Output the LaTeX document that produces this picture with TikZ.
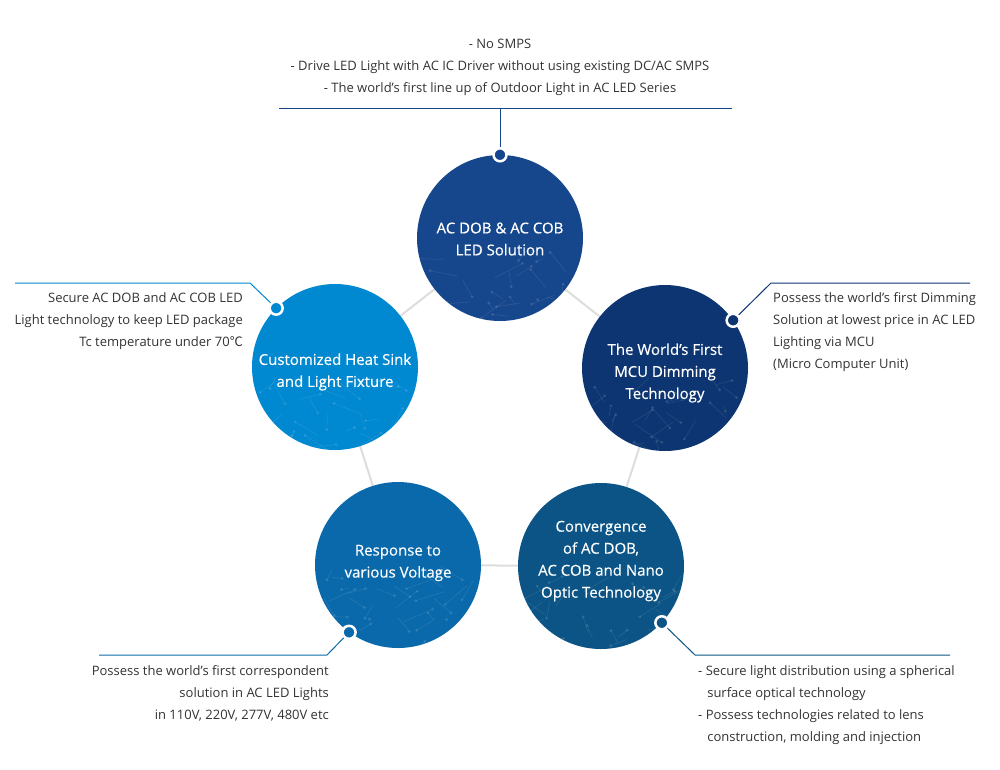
\documentclass[tikz,border=0pt]{standalone}
\usepackage{fontspec}
\setmainfont{Open Sans}
\newfontfamily\cjkfont{Noto Sans CJK KR}
\usetikzlibrary{calc}
\definecolor{cA}{HTML}{16468C}
\definecolor{cB}{HTML}{0D3571}
\definecolor{cC}{HTML}{0088D0}
\definecolor{cD}{HTML}{0A69AA}
\definecolor{cE}{HTML}{0B5485}
\definecolor{txt}{HTML}{333333}
\definecolor{link}{HTML}{DDDDDD}
\tikzset{
  bubble/.style={circle,minimum size=166pt,inner sep=0pt,fill=#1},
  bubtext/.style={text=white,align=center,inner sep=0pt,font=\fontsize{15}{22}\selectfont\addfontfeature{FakeBold=0.4}},
  dotmark/.style={circle,fill=#1,draw=white,line width=2.5pt,minimum size=13pt,inner sep=0pt},
  leader/.style={draw=#1,line width=1pt},
  desc/.style={text=txt,font=\fontsize{13}{22}\selectfont,inner sep=0pt},
  link/.style={draw=link,line width=2pt}
}
\begin{document}
\begin{tikzpicture}[x=1pt,y=-1pt]
\useasboundingbox (0,0) rectangle (1000,769);
% circle centres
\coordinate (pA) at (500,238);
\coordinate (pB) at (665,368);
\coordinate (pC) at (335,367);
\coordinate (pD) at (398,565);
\coordinate (pE) at (601,566);
\draw[link] (pA) -- (pB) -- (pE) -- (pD) -- (pC) -- cycle;
% bubbles
\node[bubble=cA] (cA) at (pA) {};
\node[bubble=cB] (cB) at (pB) {};
\node[bubble=cC] (cC) at (pC) {};
\node[bubble=cD] (cD) at (pD) {};
\node[bubble=cE] (cE) at (pE) {};
% faint network texture
\foreach \p/\s in {pA/3,pB/5,pC/7,pD/11,pE/13}{
  \begin{scope}
    \clip (\p) circle (83);
    \pgfmathsetseed{\s}
    \foreach \i in {1,...,30}{
      \pgfmathsetmacro{\ax}{rnd*170-85}
      \pgfmathsetmacro{\ay}{rnd*70+10}
      \pgfmathsetmacro{\bx}{\ax+rnd*60-30}
      \pgfmathsetmacro{\by}{\ay+rnd*40-20}
      \draw[white,opacity=0.10,line width=0.6pt] ($(\p)+(\ax,\ay)$) -- ($(\p)+(\bx,\by)$);
      \fill[white,opacity=0.12] ($(\p)+(\ax,\ay)$) circle (1.6);
    }
  \end{scope}
}
% bubble texts
\node[bubtext] (tcA) at ([yshift=-1pt]cA.center) {AC DOB \& AC COB\\LED Solution};
\node[bubtext] (tcB) at ([yshift=-5pt]cB.center) {The World’s First\\MCU Dimming\\Technology};
\node[bubtext] (tcC) at ([yshift=-5pt]cC.center) {Customized Heat Sink\\and Light Fixture};
\node[bubtext] (tcD) at ([yshift=2pt]cD.center) {Response to\\various Voltage};
\node[bubtext] (tcE) at ([yshift=5pt]cE.center) {Convergence\\of AC DOB,\\AC COB and Nano\\Optic Technology};
% dots and leaders
\node[dotmark=cA] (dA) at (cA.90) {};
\node[dotmark=cB] (dB) at (cB.35) {};
\node[dotmark=cC] (dC) at (cC.135) {};
\node[dotmark=cD] (dD) at (cD.234) {};
\node[dotmark=cE] (dE) at (cE.317) {};
\coordinate (kA) at (500,108);
\coordinate (lA) at (279,108);
\coordinate (rA) at (732,108);
\draw[leader=cA] (dA) -- (kA);
\draw[leader=cA] (lA) -- (rA);
\coordinate (kB) at (771,283);
\coordinate (eB) at (970,283);
\draw[leader=cB] (dB) -- (kB) -- (eB);
\coordinate (kC) at (250,283);
\coordinate (eC) at (15,283);
\draw[leader=cC] (dC) -- (kC) -- (eC);
\coordinate (kD) at (327,655);
\coordinate (eD) at (99,655);
\draw[leader=cD] (dD) -- (kD) -- (eD);
\coordinate (kE) at (695,655);
\coordinate (eE) at (950,655);
\draw[leader=cE] (dE) -- (kE) -- (eE);
% descriptions
\node[desc,align=center,anchor=north] (tA) at (500,39) {- No SMPS\\- Drive LED Light with AC IC Driver without using existing DC/AC SMPS\\- The world’s first line up of Outdoor Light in AC LED Series};
\node[desc,align=left,anchor=north west] (tB) at (773,292) {Possess the world’s first Dimming\\Solution at lowest price in AC LED\\Lighting via MCU\\(Micro Computer Unit)};
\node[desc,align=right,anchor=north east] (tC) at (243,292) {Secure AC DOB and AC COB LED\\Light technology to keep LED package\\Tc temperature under 70{\cjkfont ℃}};
\node[desc,align=right,anchor=north east] (tD) at (329,665) {Possess the world’s first correspondent\\solution in AC LED Lights\\in 110V, 220V, 277V, 480V etc};
\node[desc,align=left,anchor=north west] (tE) at (698,665) {- Secure light distribution using a spherical\\\hspace*{0.7em}surface optical technology\\- Possess technologies related to lens\\\hspace*{0.7em}construction, molding and injection};
\end{tikzpicture}
\end{document}
